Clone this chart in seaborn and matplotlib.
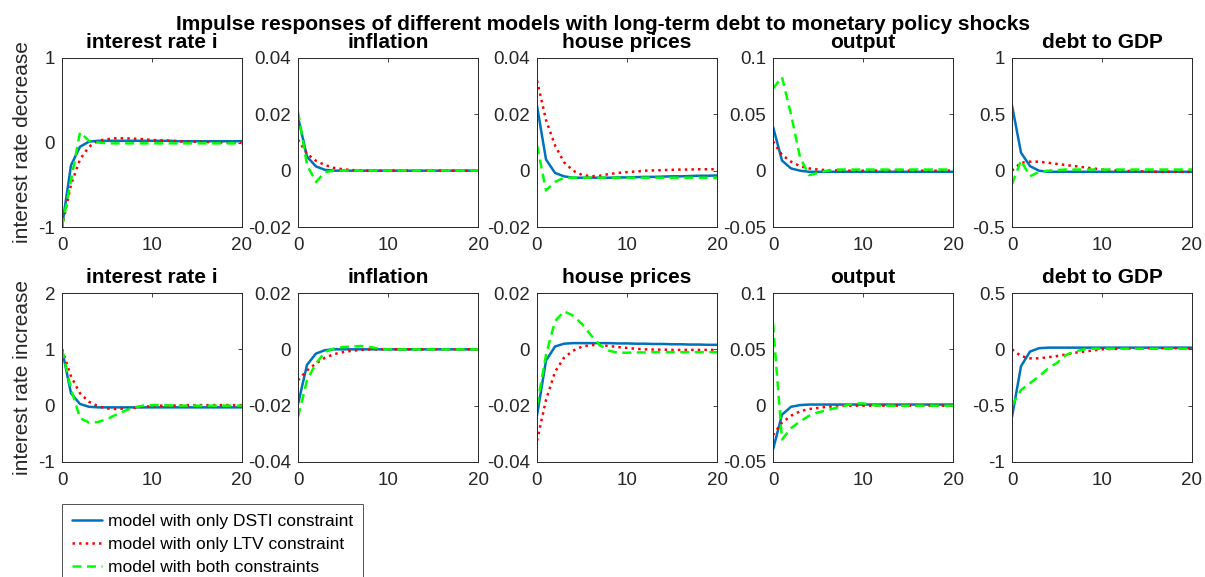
import numpy as np
import matplotlib
matplotlib.use("Agg")
import matplotlib.pyplot as plt
import seaborn as sns

periods = np.arange(21)

titles = ["interest rate i", "inflation", "house prices", "output", "debt to GDP"]
row_labels = ["interest rate decrease", "interest rate increase"]
model_labels = [
    "model with only DSTI constraint",
    "model with only LTV constraint",
    "model with both constraints",
]

# row 1: interest rate decrease
ir_dec_dsti = [-1, -0.27, -0.05, 0.01, 0.02, 0.02, 0.02, 0.02, 0.02, 0.02, 0.02,
               0.02, 0.02, 0.015, 0.015, 0.015, 0.015, 0.015, 0.015, 0.015, 0.015]
ir_dec_ltv = [-1, -0.5, -0.2, -0.05, 0.02, 0.04, 0.05, 0.05, 0.045, 0.04, 0.03,
              0.025, 0.02, 0.015, 0.01, 0.01, 0.005, 0.005, 0.0, 0.0, 0.0]
ir_dec_both = [-1, -0.45, 0.12, 0.02, 0.0, -0.01, -0.01, -0.01, -0.01, -0.01, -0.01,
               -0.01, -0.01, -0.01, -0.01, -0.01, -0.01, -0.01, -0.01, -0.01, -0.01]

infl_dec_dsti = [0.019, 0.005, 0.0015, 0.0003, 0, 0, 0, 0, 0, 0, 0,
                 0, 0, 0, 0, 0, 0, 0, 0, 0, 0]
infl_dec_ltv = [0.011, 0.006, 0.0035, 0.002, 0.001, 0.0005, 0.0002, 0, 0, 0, 0,
                0, 0, 0, 0, 0, 0, 0, 0, 0, 0]
infl_dec_both = [0.021, 0.002, -0.004, -0.0005, 0.0, 0, 0, 0, 0, 0, 0,
                 0, 0, 0, 0, 0, 0, 0, 0, 0, 0]

hp_dec_dsti = [0.023, 0.004, -0.0008, -0.002, -0.0025, -0.0025, -0.0025, -0.0025,
               -0.0025, -0.0024, -0.0024, -0.0023, -0.0022, -0.0022, -0.0021,
               -0.002, -0.002, -0.0019, -0.0018, -0.0018, -0.0017]
hp_dec_ltv = [0.032, 0.018, 0.009, 0.003, 0.0, -0.0015, -0.002, -0.0018, -0.0012,
              -0.0008, -0.0005, -0.0003, 0.0, 0.0001, 0.0002, 0.0003, 0.0004,
              0.0004, 0.0005, 0.0005, 0.0005]
hp_dec_both = [0.009, -0.007, -0.004, -0.0025, -0.0025, -0.0025, -0.0025, -0.0025,
               -0.0025, -0.0025, -0.0025, -0.0025, -0.0025, -0.0025, -0.0025,
               -0.0025, -0.0025, -0.0025, -0.0025, -0.0025, -0.0025]

out_dec_dsti = [0.039, 0.009, 0.002, 0.0, -0.001, -0.001, -0.001, -0.001, -0.001,
                -0.001, -0.001, -0.001, -0.001, -0.001, -0.001, -0.001, -0.001,
                -0.001, -0.001, -0.001, -0.001]
out_dec_ltv = [0.026, 0.014, 0.008, 0.004, 0.002, 0.001, 0.0005, 0.0002, 0, 0, 0,
               0, 0, 0, 0, 0, 0, 0, 0, 0, 0]
out_dec_both = [0.073, 0.083, 0.05, 0.012, -0.004, -0.002, 0.0, 0.001, 0.001, 0.001,
                0.001, 0.001, 0.001, 0.001, 0.001, 0.001, 0.001, 0.001, 0.001,
                0.001, 0.001]

debt_dec_dsti = [0.58, 0.16, 0.04, 0.0, -0.01, -0.01, -0.01, -0.01, -0.01, -0.01,
                 -0.01, -0.01, -0.01, -0.01, -0.01, -0.01, -0.01, -0.01, -0.01,
                 -0.01, -0.01]
debt_dec_ltv = [0.0, 0.07, 0.08, 0.08, 0.07, 0.06, 0.05, 0.04, 0.03, 0.02, 0.01,
                0.005, 0.0, -0.003, -0.005, -0.008, -0.01, -0.01, -0.01, -0.01, -0.01]
debt_dec_both = [-0.12, 0.09, -0.05, -0.01, 0.0, 0.005, 0.01, 0.01, 0.01, 0.01,
                 0.01, 0.01, 0.01, 0.01, 0.01, 0.01, 0.01, 0.01, 0.01, 0.01, 0.01]

# row 2: interest rate increase
ir_inc_dsti = [1.0, 0.22, 0.03, -0.02, -0.03, -0.03, -0.03, -0.03, -0.03, -0.03,
               -0.03, -0.03, -0.03, -0.03, -0.03, -0.03, -0.03, -0.03, -0.03,
               -0.03, -0.03]
ir_inc_ltv = [1.0, 0.52, 0.22, 0.07, -0.01, -0.05, -0.06, -0.05, -0.04, -0.02,
              -0.01, 0.0, 0.0, 0.005, 0.01, 0.01, 0.01, 0.01, 0.01, 0.01, 0.01]
ir_inc_both = [1.0, 0.3, -0.22, -0.3, -0.29, -0.24, -0.16, -0.09, -0.03, 0.0,
               0.01, 0.01, 0.005, 0.0, 0.0, 0.0, 0.0, 0.0, 0.0, 0.0, 0.0]

infl_inc_dsti = [-0.0195, -0.0055, -0.0015, -0.0003, 0, 0, 0, 0, 0, 0, 0,
                 0, 0, 0, 0, 0, 0, 0, 0, 0, 0]
infl_inc_ltv = [-0.011, -0.0075, -0.005, -0.003, -0.0017, -0.001, -0.0005, -0.0002,
                0, 0, 0, 0, 0, 0, 0, 0, 0, 0, 0, 0, 0]
infl_inc_both = [-0.024, -0.011, -0.005, -0.001, 0.0003, 0.0008, 0.001, 0.0012,
                 0.0008, 0.0003, 0, 0, 0, 0, 0, 0, 0, 0, 0, 0, 0]

hp_inc_dsti = [-0.0235, -0.004, 0.001, 0.002, 0.0022, 0.0022, 0.0022, 0.0022,
               0.0022, 0.0021, 0.0021, 0.002, 0.002, 0.0019, 0.0019, 0.0018,
               0.0018, 0.0017, 0.0017, 0.0016, 0.0016]
hp_inc_ltv = [-0.0324, -0.018, -0.008, -0.003, -0.0005, 0.001, 0.0015, 0.0015,
              0.0012, 0.0008, 0.0005, 0.0002, 0.0, -0.0001, -0.0001, -0.0002,
              -0.0002, -0.0002, -0.0002, -0.0002, -0.0002]
hp_inc_both = [-0.02, -0.002, 0.01, 0.0135, 0.012, 0.009, 0.005, 0.0015, -0.0005,
               -0.0012, -0.0012, -0.0011, -0.0011, -0.001, -0.001, -0.001, -0.001,
               -0.001, -0.001, -0.001, -0.001]

out_inc_dsti = [-0.039, -0.008, -0.001, 0.0005, 0.001, 0.001, 0.001, 0.001, 0.001,
                0.001, 0.001, 0.001, 0.001, 0.001, 0.001, 0.001, 0.001, 0.001,
                0.001, 0.001, 0.001]
out_inc_ltv = [-0.026, -0.015, -0.009, -0.005, -0.003, -0.002, -0.001, -0.0005,
               0, 0, 0, 0, 0, 0, 0, 0, 0, 0, 0, 0, 0]
out_inc_both = [0.073, -0.03, -0.02, -0.014, -0.009, -0.006, -0.004, -0.002, 0.0,
                0.002, 0.002, 0.0005, 0, 0, 0, 0, 0, 0, 0, 0, 0]

debt_inc_dsti = [-0.6, -0.15, -0.02, 0.01, 0.015, 0.015, 0.015, 0.015, 0.015,
                 0.015, 0.015, 0.015, 0.015, 0.015, 0.015, 0.015, 0.015, 0.015,
                 0.015, 0.015, 0.015]
debt_inc_ltv = [0.0, -0.06, -0.08, -0.08, -0.07, -0.06, -0.045, -0.03, -0.02,
                -0.01, 0.0, 0.003, 0.005, 0.007, 0.008, 0.01, 0.01, 0.01, 0.01,
                0.01, 0.01]
debt_inc_both = [-0.5, -0.36, -0.3, -0.24, -0.17, -0.12, -0.05, -0.02, 0.0, 0.005,
                 0.005, 0.005, 0.005, 0.005, 0.005, 0.005, 0.005, 0.005, 0.005,
                 0.005, 0.005]

panels = [
    [(ir_dec_dsti, ir_dec_ltv, ir_dec_both), (infl_dec_dsti, infl_dec_ltv, infl_dec_both),
     (hp_dec_dsti, hp_dec_ltv, hp_dec_both), (out_dec_dsti, out_dec_ltv, out_dec_both),
     (debt_dec_dsti, debt_dec_ltv, debt_dec_both)],
    [(ir_inc_dsti, ir_inc_ltv, ir_inc_both), (infl_inc_dsti, infl_inc_ltv, infl_inc_both),
     (hp_inc_dsti, hp_inc_ltv, hp_inc_both), (out_inc_dsti, out_inc_ltv, out_inc_both),
     (debt_inc_dsti, debt_inc_ltv, debt_inc_both)],
]

ylims = [
    [(-1, 1), (-0.02, 0.04), (-0.02, 0.04), (-0.05, 0.1), (-0.5, 1)],
    [(-1, 2), (-0.04, 0.02), (-0.04, 0.02), (-0.05, 0.1), (-1, 0.5)],
]
yticks = [
    [[-1, 0, 1], [-0.02, 0, 0.02, 0.04], [-0.02, 0, 0.02, 0.04], [-0.05, 0, 0.05, 0.1], [-0.5, 0, 0.5, 1]],
    [[-1, 0, 1, 2], [-0.04, -0.02, 0, 0.02], [-0.04, -0.02, 0, 0.02], [-0.05, 0, 0.05, 0.1], [-1, -0.5, 0, 0.5]],
]

colors = ["#0072BD", "#FF0000", "#00FF00"]
styles = ["-", ":", (0, (3.6, 2.2))]
widths = [1.8, 1.8, 1.8]

sns.set_style("white")
plt.rcParams["font.family"] = ["Liberation Sans", "DejaVu Sans"]
dark = "#262626"

fig = plt.figure(figsize=(12.05, 5.77), dpi=100)

lefts = [62, 298, 537, 773, 1012]
tops = [58, 293]
W, H = 1205, 577
aw, ah = 180, 169

for r in range(2):
    for c in range(5):
        ax = fig.add_axes([lefts[c] / W, 1 - (tops[r] + ah) / H, aw / W, ah / H])
        for k in range(3):
            sns.lineplot(x=periods, y=panels[r][c][k], ax=ax, color=colors[k],
                         linestyle=styles[k], linewidth=widths[k],
                         label=model_labels[k] if (r == 0 and c == 0) else None)
        ax.set_xlim(0, 20)
        ax.set_ylim(*ylims[r][c])
        ax.set_xticks([0, 10, 20])
        ax.set_yticks(yticks[r][c])
        ax.set_yticklabels([f"{v:g}" for v in yticks[r][c]])
        ax.tick_params(direction="in", length=3, width=0.6, colors=dark,
                       labelsize=13.5, top=True, right=True, pad=5,
                       labelcolor=dark)
        ax.tick_params(axis="x", pad=7)
        for sp in ax.spines.values():
            sp.set_color(dark)
            sp.set_linewidth(0.7)
        ax.set_title(titles[c], fontsize=15, fontweight="bold", pad=7, color="black")
        ax.set_xlabel("")
        if c == 0:
            ax.set_ylabel(row_labels[r], fontsize=15, color=dark)
            ax.yaxis.set_label_coords(-0.167, 0.5)
        if r == 0 and c == 0:
            handles, labels = ax.get_legend_handles_labels()
            ax.get_legend().remove()

fig.suptitle("Impulse responses of different models with long-term debt to monetary policy shocks",
             fontsize=15, fontweight="bold", y=1 - 30 / H, va="baseline", color="black")

leg = fig.legend(handles, labels, loc="upper left",
                 bbox_to_anchor=(62 / W, 1 - 504 / H), bbox_transform=fig.transFigure,
                 fontsize=12.5, frameon=True, fancybox=False, handlelength=1.75,
                 handletextpad=0.35, labelspacing=0.45, borderpad=0.55, borderaxespad=0)
for t in leg.get_texts():
    t.set_color("black")
leg.get_frame().set_edgecolor(dark)
leg.get_frame().set_linewidth(0.7)

fig.savefig("out.png", dpi=100)
